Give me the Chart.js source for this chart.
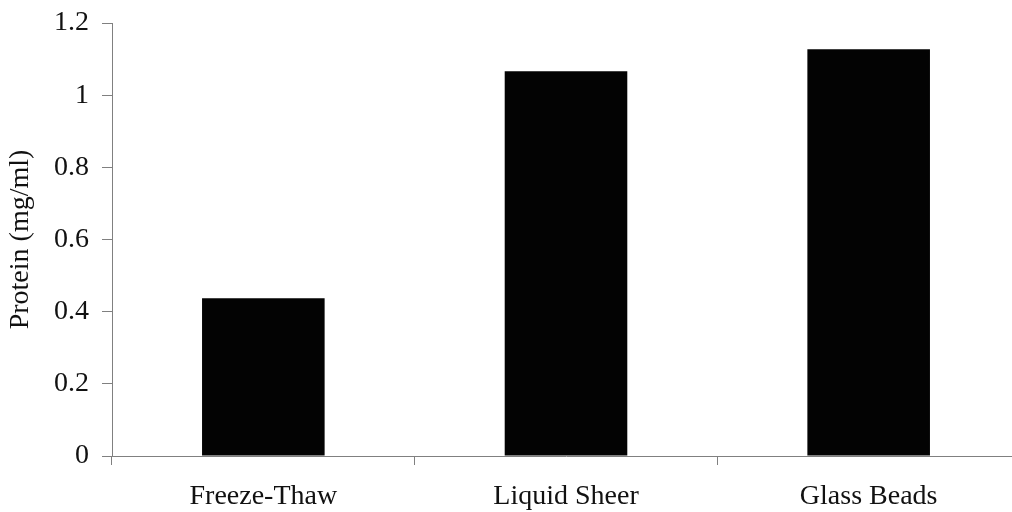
<!DOCTYPE html>
<html>
<head>
<meta charset="utf-8">
<script src="https://cdn.jsdelivr.net/npm/chart.js@4/dist/chart.umd.min.js"></script>
<style>
  html, body { margin: 0; padding: 0; background: #fff; overflow: hidden; }
  #wrap { width: 1024px; height: 512px; }
</style>
</head>
<body>
<div id="wrap"><canvas id="proteinChart"></canvas></div>
<script>
// Protein yield per extraction method
const methods = ['Freeze-Thaw', 'Liquid Sheer', 'Glass Beads'];
const proteinMgMl = [0.437, 1.066, 1.127];
const yTicks = [0, 0.2, 0.4, 0.6, 0.8, 1, 1.2];

const axisGray = '#808080';
const serif = { family: "'Liberation Serif', 'Times New Roman', serif", size: 28 };

const ctx = document.getElementById('proteinChart').getContext('2d');
new Chart(ctx, {
    type: 'bar',
    data: {
        labels: methods,
        datasets: [{
            data: proteinMgMl,
            backgroundColor: '#030303',
            borderWidth: 0,
            barPercentage: 0.405,
            categoryPercentage: 1
        }]
    },
    options: {
        responsive: true,
        maintainAspectRatio: false,
        animation: false,
        layout: { padding: { top: 0, right: 4, left: 0, bottom: 0 } },
        plugins: { legend: { display: false }, tooltip: { enabled: false } },
        scales: {
            x: {
                grid: { offset: true, drawOnChartArea: false, drawTicks: true, tickLength: 9, color: axisGray },
                border: { color: axisGray, width: 1 },
                ticks: { color: '#111', font: serif, padding: 15, maxRotation: 0 },
                afterFit: s => { s.height = 56; }
            },
            y: {
                min: 0,
                max: 1.2,
                afterBuildTicks: s => { s.ticks = yTicks.map(v => ({ value: v })); },
                grid: { drawOnChartArea: false, drawTicks: true, tickLength: 10, color: axisGray },
                border: { color: axisGray, width: 1 },
                ticks: { color: '#111', font: serif, padding: 13, callback: v => String(v) },
                title: { display: true, text: 'Protein (mg/ml)', color: '#111', font: serif, padding: 4 },
                afterFit: s => { s.width = 112; }
            }
        }
    },
    plugins: [{
        // keep the plot area top fixed instead of letting the layout pad it
        id: 'fixTop',
        afterLayout: chart => {
            const y = chart.scales.y;
            const top = 23;
            chart.chartArea.top = top;
            y.top = top;
            y.height = y.bottom - top;
            y.configure();
        }
    }]
});
</script>
</body>
</html>
